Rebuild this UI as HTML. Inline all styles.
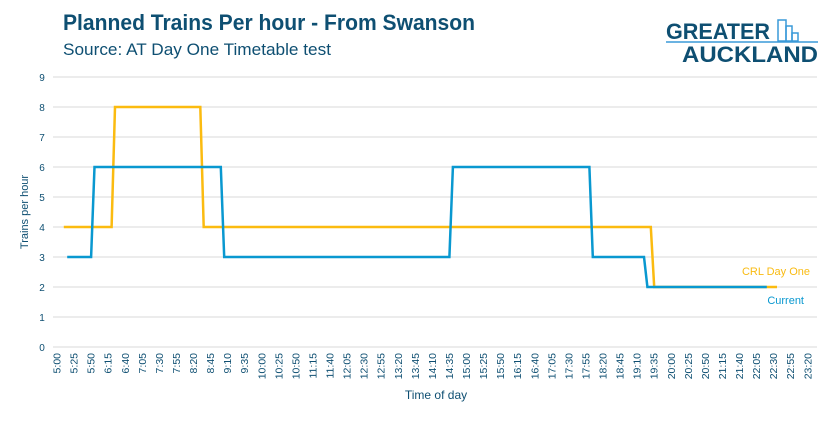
<!DOCTYPE html>
<html><head><meta charset="utf-8"><style>
body{margin:0;width:832px;height:419px;background:#fff;overflow:hidden;font-family:"Liberation Sans",sans-serif}
</style></head><body>
<svg width="832" height="419" xmlns="http://www.w3.org/2000/svg">
<text x="63" y="30" font-size="22" font-weight="bold" fill="#0e4f72" textLength="412" lengthAdjust="spacingAndGlyphs">Planned Trains Per hour - From Swanson</text>
<text x="63" y="55" font-size="17" fill="#0e4f72" textLength="268" lengthAdjust="spacingAndGlyphs">Source: AT Day One Timetable test</text>
<g>
<text x="666" y="39" font-size="22" font-weight="bold" fill="#0e4f72" textLength="104" lengthAdjust="spacingAndGlyphs">GREATER</text>
<text x="682" y="62" font-size="22" font-weight="bold" fill="#0e4f72" textLength="136" lengthAdjust="spacingAndGlyphs">AUCKLAND</text>
<line x1="666" y1="42" x2="818" y2="42" stroke="#3a9ad9" stroke-width="1.5"/>
<rect x="778" y="20" width="8" height="21" fill="none" stroke="#3a9ad9" stroke-width="1.5"/>
<rect x="786" y="26" width="6" height="15" fill="none" stroke="#3a9ad9" stroke-width="1.5"/>
<rect x="792" y="33" width="6" height="8" fill="none" stroke="#3a9ad9" stroke-width="1.5"/>
</g>
<g id="grid"></g>
<g id="ylab"></g>
<g id="xlab"></g>
<g id="series"></g>
<text transform="translate(28,212) rotate(-90)" text-anchor="middle" font-size="11" fill="#0e4f72">Trains per hour</text>
<text x="436" y="399" text-anchor="middle" font-size="12" fill="#0e4f72">Time of day</text>
<text x="810" y="275" text-anchor="end" font-size="11" fill="#f9bb12">CRL Day One</text>
<text x="804" y="304" text-anchor="end" font-size="11" fill="#0998d0">Current</text>
</svg>
<script>
const yTicks=[0,1,2,3,4,5,6,7,8,9];
const currentTimes=["5:15","5:50","5:55","9:00","9:05","14:35","14:40","18:00","18:05","19:20","19:25","22:20"];
const currentValues=[3,3,6,6,3,3,6,6,3,3,2,2];
const crlTimes=["5:10","6:20","6:25","8:30","8:35","19:30","19:35","22:35"];
const crlValues=[4,4,8,8,4,4,2,2];
const NS="http://www.w3.org/2000/svg";
function mins(s){const p=s.split(":");return +p[0]*60+ +p[1];}
function X(m){return 57+(m-300)*0.6825;}
function Y(v){return 347-v*30;}
function mk(t,a,parent){const e=document.createElementNS(NS,t);for(const k in a)e.setAttribute(k,a[k]);document.getElementById(parent).appendChild(e);return e;}
yTicks.forEach(v=>{
 const l=mk("line",{x1:53,x2:817,y1:Y(v),y2:Y(v),stroke:"#d9d9d9","stroke-width":1},"grid");
 
 
 const t=mk("text",{x:42,y:Y(v)+4,"text-anchor":"middle","font-size":10,fill:"#0e4f72"},"ylab");
 t.textContent=v;
 
 
});
for(let m=300;m<=1400;m+=25){
 const h=Math.floor(m/60),mm=m%60;
 const lab=h+":"+(mm<10?"0":"")+mm;
 const x=X(m);
 const t=mk("text",{transform:`translate(${x+3.5},353) rotate(-90)`,"text-anchor":"end","font-size":10.5,fill:"#0e4f72"},"xlab");
 t.textContent=lab;
 
 
}
function draw(times,vals,color,name){
 const pts=times.map((s,i)=>X(mins(s)).toFixed(1)+","+Y(vals[i]).toFixed(1)).join(" ");
 const p=mk("polyline",{points:pts,fill:"none",stroke:color,"stroke-width":2.5,"stroke-linejoin":"miter"},"series");
 
 
}
draw(crlTimes,crlValues,"#fbbb10","line-crl-day-one");
draw(currentTimes,currentValues,"#0998d0","line-current");
</script>
</body></html>
